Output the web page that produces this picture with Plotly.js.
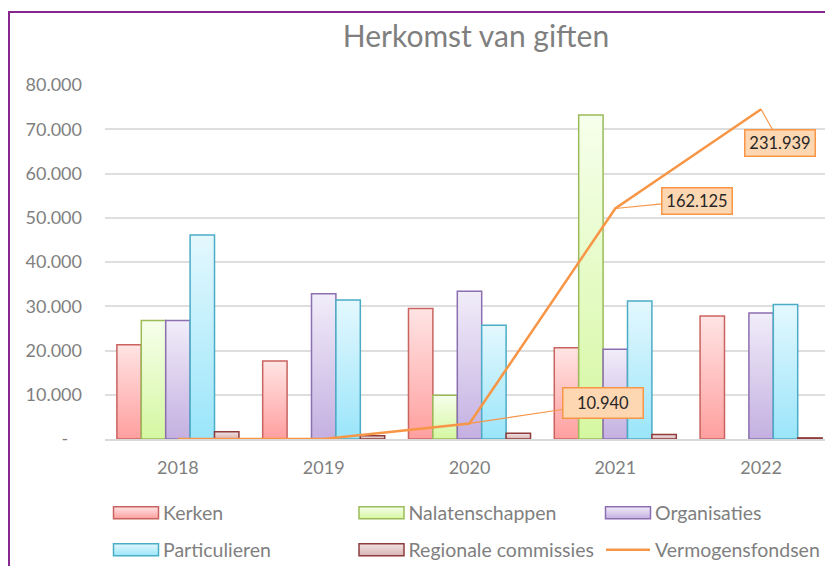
<!DOCTYPE html>
<html><head><meta charset="utf-8">
<script src="https://cdn.plot.ly/plotly-3.0.1.min.js"></script>
<style>
html,body{margin:0;padding:0;background:#fff;overflow:hidden;width:825px;height:566px}
#frame{position:absolute;left:8px;top:11px;width:900px;height:600px;border-left:2px solid #86288F;border-top:2px solid #86288F;}
#chart{position:absolute;left:10px;top:13px;}
</style></head><body>
<div id="frame"></div><div id="chart"></div>
<script>
var years = ['2018','2019','2020','2021','2022'];
var kerken = [21300, 17600, 29500, 20600, 27800];
var nalatenschappen = [26800, null, 9900, 73200, null];
var organisaties = [26800, 32800, 33400, 20300, 28500];
var particulieren = [46100, 31400, 25700, 31200, 30400];
var regionale = [1650, 750, 1300, 1000, 250];
var vermogensfondsen = [0, 0, 10940, 162125, 231939];
var labelledYears = ['2020','2021','2022'];
var yTickVals = [0,10000,20000,30000,40000,50000,60000,70000,80000];
var yTickText = ['-\u00a0\u00a0\u00a0','10.000','20.000','30.000','40.000','50.000','60.000','70.000','80.000'];

function fmt(v){return String(v).replace(/\B(?=(\d{3})+(?!\d))/g,'.');}

var FONT = 'Lato, "Open Sans", sans-serif';
var barStyles = [
  {name:'Kerken', y:kerken, line:'#C9635F', mid:'#FFC2C2', top:'#FFE4E4', bot:'#FF9F9F'},
  {name:'Nalatenschappen', y:nalatenschappen, line:'#9BBB59', mid:'#E9FBC9', top:'#F6FFEC', bot:'#D5F7A1'},
  {name:'Organisaties', y:organisaties, line:'#8B6FB0', mid:'#DDD2EF', top:'#F1EDF9', bot:'#C4B0E1'},
  {name:'Particulieren', y:particulieren, line:'#4BACC6', mid:'#C4F0FC', top:'#E4F8FE', bot:'#9AE5FA'},
  {name:'Regionale commissies', y:regionale, line:'#8E3B3B', mid:'#E6CDCD', top:'#F2E3E3', bot:'#D8B4B4'}
];
var legendIds = ['legend','legend2','legend3','legend4','legend5','legend6'];

var data = barStyles.map(function(s,i){
  return {type:'bar', name:s.name, x:years, y:s.y, legend:legendIds[i],
    marker:{color:s.mid, line:{color:s.line, width:1.5}}, hoverinfo:'skip'};
});
data.push({type:'scatter', mode:'lines', name:'Vermogensfondsen', x:years, y:vermogensfondsen,
  yaxis:'y2', legend:legendIds[5], line:{color:'#F79646', width:2.5}, hoverinfo:'skip'});

var W = 880, H = 560;
var annOffsets = [[133,-20,71,21],[82,-8,61,17],[19,34,61,17]];
var annotations = labelledYears.map(function(yr,i){
  var idx = years.indexOf(yr);
  var v = vermogensfondsen[idx];
  var o = annOffsets[i];
  return {x:idx, y:v, xref:'x', yref:'y2', text:fmt(v), showarrow:true, arrowhead:0,
    arrowcolor:'#F79646', arrowwidth:1.2, ax:o[0], ay:o[1], width:o[2], height:o[3],
    bgcolor:'#FDD7B2', bordercolor:'#F79646', borderwidth:1.5, borderpad:4,
    font:{family:FONT, size:16.5, color:'#262626'}};
});

var legendBase = {orientation:'h', xref:'container', yref:'container', xanchor:'left', yanchor:'middle',
  itemwidth:44, font:{family:FONT, size:19.5, color:'#7F7F7F'}, bgcolor:'rgba(0,0,0,0)',
  itemclick:false, itemdoubleclick:false};
var legendCols = [99, 344.5, 591], legendRows = [500, 537];

var layout = {
  width:W, height:H, autosize:false,
  margin:{l:95, r:56, t:72, b:134},
  paper_bgcolor:'rgba(0,0,0,0)', plot_bgcolor:'rgba(0,0,0,0)',
  title:{text:'Herkomst van giften', font:{family:FONT, size:30, color:'#7F7F7F'},
    xref:'container', yref:'container', x:466/W, y:1-23/H, xanchor:'center', yanchor:'middle'},
  barmode:'group', bargap:0.163, bargroupgap:0,
  xaxis:{type:'category', range:[-0.5,4.5], autorange:false, showgrid:false, showline:true, linecolor:'#D9D9D9', linewidth:1.5,
    ticks:'', ticklabelstandoff:12, tickfont:{family:FONT, size:18, color:'#7F7F7F'}, fixedrange:true},
  yaxis:{range:[0,80000], autorange:false, tickvals:yTickVals, ticktext:yTickText, showgrid:true, gridcolor:'#DEDEDE', gridwidth:1.5,
    zeroline:false, ticks:'', ticklabelstandoff:22, tickfont:{family:FONT, size:18, color:'#7F7F7F'}, fixedrange:true},
  yaxis2:{overlaying:'y', side:'right', range:[0,249000], autorange:false, visible:false, showgrid:false, fixedrange:true},
  annotations:annotations,
  showlegend:true
};
legendIds.forEach(function(id,i){
  layout[id] = Object.assign({}, legendBase, {x:legendCols[i%3]/W, y:1-legendRows[Math.floor(i/3)]/H});
});

Plotly.newPlot('chart', data, layout, {displayModeBar:false}).then(function(gd){
  var NS = 'http://www.w3.org/2000/svg';
  var svg = gd.querySelector('svg.main-svg');
  var defs = svg.querySelector('defs');
  if(!defs){defs = document.createElementNS(NS,'defs'); svg.insertBefore(defs, svg.firstChild);}
  barStyles.forEach(function(s,i){
    var g = document.createElementNS(NS,'linearGradient');
    g.setAttribute('id','barGrad'+i); g.setAttribute('x1','0'); g.setAttribute('y1','0');
    g.setAttribute('x2','0'); g.setAttribute('y2','1');
    [[0,s.top],[1,s.bot]].forEach(function(st){
      var e = document.createElementNS(NS,'stop');
      e.setAttribute('offset', st[0]); e.setAttribute('stop-color', st[1]); g.appendChild(e);
    });
    defs.appendChild(g);
  });
  var traces = gd.querySelectorAll('.barlayer .trace');
  traces.forEach(function(t,i){
    t.querySelectorAll('path').forEach(function(p){ p.style.fill = 'url(#barGrad'+i+')'; });
  });
  gd.querySelectorAll('g.traces').forEach(function(item){
    var d = item.__data__ && item.__data__[0] && item.__data__[0].trace;
    if(!d) return;
    if(d.type === 'bar'){
      var idx = d.index;
      item.querySelectorAll('.legendpoints path').forEach(function(p){
        p.setAttribute('d','M-22.5,6H22.5V-6H-22.5Z');
        p.style.fill = 'url(#barGrad'+idx+')';
      });
    }
  });
});
</script>
</body></html>
